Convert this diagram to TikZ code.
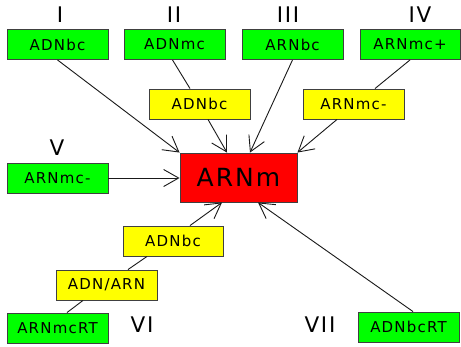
\documentclass[tikz,border=0pt]{standalone}
\usepackage{fontspec}
\setmainfont{DejaVu Sans}
\newfontfamily\boxfont[LetterSpace=8]{DejaVu Sans}
\usetikzlibrary{arrows.meta}
\definecolor{edgegray}{HTML}{404040}
\tikzset{
  box/.style={draw=edgegray, line width=0.9pt, minimum height=30pt, inner sep=0pt,
              font=\boxfont\fontsize{15}{17}\selectfont},
  greenbox/.style={box, fill={rgb,255:red,0;green,255;blue,0}, minimum width=101pt},
  yellowbox/.style={box, fill={rgb,255:red,255;green,255;blue,0}, minimum width=101pt},
  redbox/.style={box, fill={rgb,255:red,255;green,0;blue,0}, minimum width=117pt,
                 minimum height=49pt, font=\boxfont\fontsize{25}{28}\selectfont},
  roman/.style={font=\boxfont\fontsize{21.5}{24}\selectfont, inner sep=0pt},
  link/.style={draw=black!90, line width=0.9pt},
  feed/.style={link, -{Straight Barb[length=15pt,width=17pt,line width=0.9pt]}},
}
\begin{document}
\begin{tikzpicture}[x=1pt,y=-1pt]
\useasboundingbox[fill=white] (0,0) rectangle (461,346);

% central target
\node[redbox] (arn) at (238.5,177.5) {ARNm};

% upper sources
\node[greenbox] (g1) at (57.5,44.5) {ADNbc};
\node[greenbox] (g2) at (174.5,44.5) {ADNmc};
\node[greenbox] (g3) at (292.5,44.5) {ARNbc};
\node[greenbox, minimum width=100pt] (g4) at (410,44.5) {ARNmc+};
\node[yellowbox] (y1) at (199.5,104) {ADNbc};
\node[yellowbox] (y2) at (353.5,104) {ARNmc-};

% left and lower sources
\node[greenbox] (g5) at (57.5,178) {ARNmc-};
\node[yellowbox, minimum width=100pt] (y3) at (173,241) {ADNbc};
\node[yellowbox] (y4) at (106.5,285) {ADN/ARN};
\node[greenbox] (g6) at (57.5,328) {ARNmcRT};
\node[greenbox] (g7) at (408.5,327) {ADNbcRT};

% pathway numbers
\node[roman] (rI) at (60,15) {I};
\node[roman] (rII) at (174,15) {II};
\node[roman] (rIII) at (288,15) {III};
\node[roman] (rIV) at (420,15) {IV};
\node[roman] (rV) at (57,148) {V};
\node[roman] (rVI) at (142,325) {VI};
\node[roman] (rVII) at (320,325) {VII};

% pathway I
\draw[feed] (g1.south) -- (arn.north west);
% pathway II
\draw[link] ([xshift=-2pt]g2.south) -- ([xshift=-9.5pt]y1.north);
\draw[feed] ([xshift=8.5pt]y1.south) -- ([xshift=-11.5pt]arn.north);
% pathway III
\draw[feed] (g3.south) -- ([xshift=11.5pt]arn.north);
% pathway IV
\draw[link] (g4.south) -- ([xshift=21.5pt]y2.north);
\draw[feed] ([xshift=-16.5pt]y2.south) -- (arn.north east);
% pathway V
\draw[feed] (g5.east) -- (arn.west |- g5.east);
% pathway VI
\draw[link] ([xshift=9.5pt]g6.north) -- ([xshift=-23.5pt]y4.south);
\draw[link] ([xshift=21.5pt]y4.north) -- ([xshift=-26pt]y3.south);
\draw[feed] ([xshift=17pt]y3.north) -- ([xshift=-16.5pt]arn.south);
% pathway VII
\draw[feed] ([xshift=4.5pt]g7.north) -- ([xshift=19.5pt]arn.south);
\end{tikzpicture}
\end{document}
